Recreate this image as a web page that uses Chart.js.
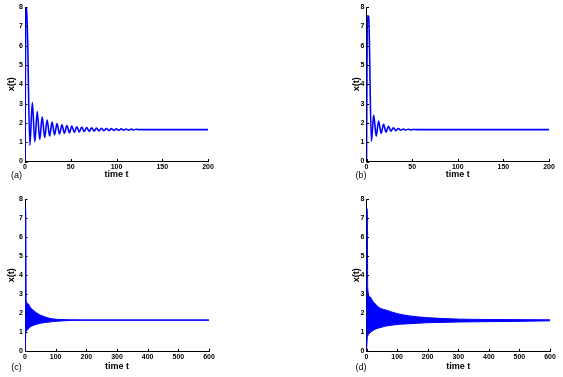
<!DOCTYPE html>
<html>
<head>
<meta charset="utf-8">
<script src="https://cdn.jsdelivr.net/npm/chart.js@4/dist/chart.umd.min.js"></script>
<style>
  html, body { margin: 0; padding: 0; background: #fff; }
  body { width: 563px; height: 377px; position: relative; overflow: hidden; font-family: "Liberation Sans", Arial, sans-serif; }
  canvas { position: absolute; }
  .lbl { position: absolute; font-size: 9px; color: #000; transform: translate(-50%, -50%); white-space: nowrap; }
</style>
</head>
<body>
<canvas id="ca" style="left:0px;top:0px;width:220px;height:185px" width="220" height="185"></canvas>
<canvas id="cb" style="left:340px;top:0px;width:223px;height:185px" width="223" height="185"></canvas>
<canvas id="cc" style="left:0px;top:185px;width:220px;height:192px" width="220" height="192"></canvas>
<canvas id="cd" style="left:340px;top:185px;width:223px;height:192px" width="223" height="192"></canvas>
<div class="lbl" style="left:16.5px;top:175px">(a)</div>
<div class="lbl" style="left:361px;top:175px">(b)</div>
<div class="lbl" style="left:16.5px;top:367px">(c)</div>
<div class="lbl" style="left:361px;top:367px">(d)</div>
<script>
// ---- tick labels ----
const xTicksShort = [0, 50, 100, 150, 200];
const xTicksLong = [0, 100, 200, 300, 400, 500, 600];
const yTicks = [0, 1, 2, 3, 4, 5, 6, 7, 8];
const xTitle = 'time t';
const yTitle = 'x(t)';

// ---- panel (a): extrema of the damped oscillation ----
const timeA = [0, 1.0, 1.9, 5.3, 8.0, 10.7, 13.4, 16.1, 18.8, 21.5, 24.2, 26.9, 29.6, 32.3, 35.0, 37.7, 40.4, 43.1, 45.8, 48.5, 51.2, 53.9, 56.6, 59.3, 62.0, 64.7, 67.4, 70.1, 72.8, 75.5, 78.2, 80.9, 83.6, 86.3, 89.0, 91.7, 94.4, 97.1, 99.8, 102.5, 105.2, 107.9, 110.6, 113.3, 116.0, 118.7, 121.4, 125, 200];
const valueA = [0.1, 8, 8, 0.84, 3.05, 1.02, 2.58, 1.14, 2.32, 1.24, 2.15, 1.32, 2.04, 1.38, 1.96, 1.43, 1.90, 1.46, 1.86, 1.49, 1.83, 1.51, 1.80, 1.53, 1.78, 1.55, 1.76, 1.565, 1.745, 1.575, 1.73, 1.585, 1.72, 1.595, 1.71, 1.603, 1.70, 1.61, 1.693, 1.616, 1.687, 1.622, 1.68, 1.627, 1.675, 1.632, 1.67, 1.65, 1.65];

// ---- panel (b) ----
const timeB = [0, 1.0, 2.4, 5.3, 7.9, 10.6, 13.3, 16.0, 18.7, 21.4, 24.1, 26.8, 29.5, 32.2, 34.9, 37.6, 40.3, 43.0, 45.7, 48.4, 51.1, 55, 200];
const valueB = [0.1, 7.55, 7.5, 1.04, 2.40, 1.31, 2.10, 1.45, 1.92, 1.52, 1.82, 1.57, 1.75, 1.60, 1.71, 1.62, 1.685, 1.632, 1.67, 1.64, 1.66, 1.65, 1.65];

// ---- panel (c): envelope of the fast oscillation ----
const timeC = [0, 1.2, 2.5, 4, 10, 16, 27, 38, 49, 60, 71, 92, 114, 147, 180, 600];
const upperC = [0.1, 7.5, 7.4, 2.65, 2.5, 2.34, 2.16, 2.02, 1.91, 1.84, 1.77, 1.70, 1.67, 1.655, 1.65, 1.65];
const lowerC = [0.05, 0.3, 0.9, 1.05, 1.15, 1.27, 1.36, 1.42, 1.47, 1.50, 1.52, 1.56, 1.59, 1.62, 1.63, 1.63];

// ---- panel (d) ----
const timeD = [0, 1.2, 2.5, 4, 11, 22, 33, 43, 65, 87, 109, 141, 196, 250, 304, 413, 522, 600];
const upperD = [0.1, 7.5, 7.4, 3.31, 2.87, 2.6, 2.42, 2.28, 2.16, 2.04, 1.95, 1.86, 1.77, 1.72, 1.69, 1.67, 1.66, 1.655];
const lowerD = [0.05, 0.3, 0.7, 0.8, 0.96, 1.1, 1.19, 1.24, 1.33, 1.38, 1.42, 1.45, 1.5, 1.52, 1.54, 1.56, 1.58, 1.6];

const BLUE = '#0000ff';
const pts = (ts, vs) => ts.map((t, i) => ({ x: t, y: vs[i] }));

const inTicks = {
  id: 'inTicks',
  afterDraw(chart) {
    const { ctx, chartArea: ca, scales: { x, y } } = chart;
    ctx.save();
    ctx.strokeStyle = '#000';
    ctx.lineWidth = 1;
    ctx.beginPath();
    x.ticks.forEach(t => {
      const px = Math.round(x.getPixelForValue(t.value)) + 0.5;
      ctx.moveTo(px, ca.bottom); ctx.lineTo(px, ca.bottom - 2.5);
    });
    y.ticks.forEach(t => {
      const py = Math.round(y.getPixelForValue(t.value)) + 0.5;
      ctx.moveTo(ca.left, py); ctx.lineTo(ca.left + 2.5, py);
    });
    ctx.stroke();
    ctx.restore();
  }
};

function makeChart(id, cfg) {
  const xTickArr = cfg.xTicks;
  new Chart(document.getElementById(id), {
    type: 'line',
    data: { datasets: cfg.datasets },
    options: {
      responsive: false,
      animation: false,
      events: [],
      layout: { padding: { left: 0, top: cfg.padTop, right: cfg.padRight, bottom: 0 } },
      plugins: { legend: { display: false }, tooltip: { enabled: false } },
      elements: { point: { radius: 0 } },
      scales: {
        x: {
          type: 'linear', min: 0, max: cfg.xMax,
          afterBuildTicks: s => { s.ticks = xTickArr.map(v => ({ value: v })); },
          afterFit: s => { s.height = cfg.xHeight; },
          grid: { display: false, drawTicks: false },
          border: { display: true, color: '#000', width: 1 },
          ticks: { padding: 1.5, maxRotation: 0, autoSkip: false, color: '#000', font: { family: 'Liberation Sans', size: 7, weight: 'bold' } },
          title: { display: true, text: xTitle, color: '#000', padding: { top: 0, bottom: cfg.xTitlePad }, font: { family: 'Liberation Sans', size: 9, weight: 'bold' } }
        },
        y: {
          type: 'linear', min: 0, max: 8,
          afterBuildTicks: s => { s.ticks = yTicks.map(v => ({ value: v })); },
          afterFit: s => { s.width = cfg.yWidth; },
          grid: { display: false, drawTicks: false },
          border: { display: true, color: '#000', width: 1 },
          ticks: { padding: 2, color: '#000', font: { family: 'Liberation Sans', size: 7, weight: 'bold' } },
          title: { display: true, text: yTitle, color: '#000', padding: { top: cfg.yTitlePad, bottom: 0 }, font: { family: 'Liberation Sans', size: 9, weight: 'bold' } }
        }
      }
    },
    plugins: [inTicks]
  });
}

const lineDs = (ts, vs) => ({
  data: pts(ts, vs), borderColor: BLUE, borderWidth: 1.6, fill: false,
  cubicInterpolationMode: 'monotone'
});
const bandDs = (ts, up, low) => ([
  { data: pts(ts, up), borderColor: BLUE, borderWidth: 1, fill: false, cubicInterpolationMode: 'monotone' },
  { data: pts(ts, low), borderColor: BLUE, borderWidth: 1, fill: '-1', backgroundColor: BLUE, cubicInterpolationMode: 'monotone' }
]);

makeChart('ca', { datasets: [lineDs(timeA, valueA)], xTicks: xTicksShort, xMax: 200,
  padTop: 7, padRight: 12, xHeight: 23.5, yWidth: 25, xTitlePad: 4.6, yTitlePad: 6.6 });
makeChart('cb', { datasets: [lineDs(timeB, valueB)], xTicks: xTicksShort, xMax: 200,
  padTop: 7, padRight: 14, xHeight: 23.5, yWidth: 26.5, xTitlePad: 4.6, yTitlePad: 11 });
makeChart('cc', { datasets: bandDs(timeC, upperC, lowerC), xTicks: xTicksLong, xMax: 600,
  padTop: 14, padRight: 11, xHeight: 25.7, yWidth: 25, xTitlePad: 4.6, yTitlePad: 6.6 });
makeChart('cd', { datasets: bandDs(timeD, upperD, lowerD), xTicks: xTicksLong, xMax: 600,
  padTop: 14, padRight: 13, xHeight: 25.7, yWidth: 26.5, xTitlePad: 4.6, yTitlePad: 11 });
</script>
</body>
</html>
